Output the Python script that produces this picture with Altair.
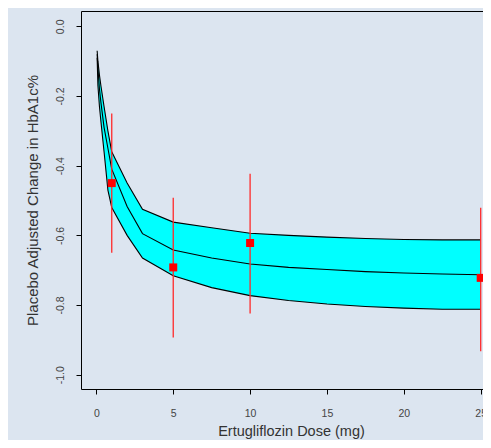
import altair as alt
import pandas as pd

# Model prediction (median and 95% band)
dose = [0.05, 0.1, 0.2, 0.3, 0.5, 0.75, 1, 2, 3, 5, 7.5, 10, 12.5, 15, 17.5, 20, 22.5, 25]
upper = [-0.07, -0.10, -0.14, -0.172, -0.23, -0.30, -0.36, -0.45, -0.525, -0.562, -0.578,
         -0.594, -0.600, -0.605, -0.609, -0.612, -0.613, -0.613]
middle = [-0.08, -0.12, -0.18, -0.22, -0.29, -0.35, -0.41, -0.517, -0.595, -0.642, -0.665,
          -0.682, -0.692, -0.698, -0.704, -0.708, -0.711, -0.713]
lower = [-0.09, -0.17, -0.23, -0.275, -0.36, -0.47, -0.52, -0.60, -0.665, -0.716, -0.75,
         -0.773, -0.787, -0.797, -0.804, -0.809, -0.812, -0.812]

# Observed placebo-adjusted means with intervals
obs_dose = [1, 5, 10, 25]
obs_mean = [-0.45, -0.692, -0.622, -0.722]
obs_lo = [-0.65, -0.893, -0.824, -0.933]
obs_hi = [-0.25, -0.492, -0.423, -0.521]

x_ticks = [0, 5, 10, 15, 20, 25]
y_ticks = [0.0, -0.2, -0.4, -0.6, -0.8, -1.0]

band = pd.DataFrame({"dose": dose, "upper": upper, "middle": middle, "lower": lower})
lines = pd.concat([
    pd.DataFrame({"dose": dose, "value": upper, "curve": "upper"}),
    pd.DataFrame({"dose": dose, "value": middle, "curve": "middle"}),
    pd.DataFrame({"dose": dose, "value": lower, "curve": "lower"}),
])
obs = pd.DataFrame({"dose": obs_dose, "mean": obs_mean, "lo": obs_lo, "hi": obs_hi})

W, H = 402, 378
text_col = "#333333"
label_col = "#444444"
font = "Liberation Sans"

xscale = alt.Scale(domain=[-1, 25.15], nice=False, zero=False)
yscale = alt.Scale(domain=[-1.041, 0.044], nice=False, zero=False)

xaxis = alt.Axis(
    values=x_ticks, title="Ertugliflozin Dose (mg)", grid=False, domain=False,
    tickColor="black", tickSize=5, tickWidth=1,
    labelFont=font, labelFontSize=10.5, labelColor=label_col,
    labelBaseline="alphabetic", labelPadding=22.7, labelAlign="center",
    titleFont=font, titleFontSize=14.5, titleFontWeight="normal", titleColor=text_col,
    titleX=210, titleY=46, titleAlign="center", titleBaseline="alphabetic",
)
yaxis = alt.Axis(
    values=y_ticks, title="Placebo Adjusted Change in HbA1c%", grid=False, domain=False,
    tickColor="black", tickSize=5, tickWidth=1,
    labelFont=font, labelFontSize=10.5, labelColor=label_col,
    labelAngle=270, labelAlign="center", labelBaseline="alphabetic", labelPadding=12.5,
    labelExpr="replace(format(datum.value, '.1f'), '\u2212', '-')",
    titleFont=font, titleFontSize=15, titleFontWeight="normal", titleColor=text_col,
    titleAngle=270, titleX=-49, titleY=189, titleAlign="center", titleBaseline="middle",
)

area = alt.Chart(band).mark_area(color="#00ffff", opacity=1).encode(
    x=alt.X("dose:Q", scale=xscale, axis=xaxis),
    y=alt.Y("lower:Q", scale=yscale, axis=yaxis),
    y2="upper:Q",
)

curves = alt.Chart(lines).mark_line(color="black", strokeWidth=1.1).encode(
    x=alt.X("dose:Q", scale=xscale),
    y=alt.Y("value:Q", scale=yscale),
    detail="curve:N",
)

bars = alt.Chart(obs).mark_rule(color="#ff2a2a", strokeWidth=1.3).encode(
    x=alt.X("dose:Q", scale=xscale),
    y=alt.Y("lo:Q", scale=yscale),
    y2="hi:Q",
)

points = alt.Chart(obs).mark_square(color="#ff0000", size=64, opacity=1).encode(
    x=alt.X("dose:Q", scale=xscale),
    y=alt.Y("mean:Q", scale=yscale),
)

chart = alt.layer(area, curves, bars, points).properties(
    width=W, height=H,
    background="#dce5f0",
    padding={"left": 73, "top": 3, "right": 0, "bottom": 51},
    autosize=alt.AutoSizeParams(type="none"),
).configure_view(stroke="black", strokeWidth=1, fill="#dce5f0")

chart.save("out.html", embed_options={"renderer": "svg", "actions": False})
